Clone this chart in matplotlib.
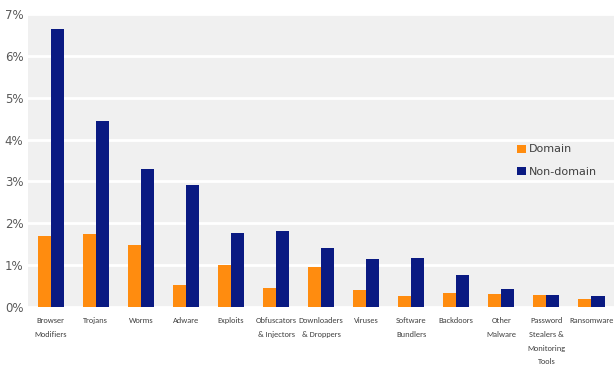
import numpy as np
import matplotlib.pyplot as plt

categories = ['Browser\nModifiers', 'Trojans', 'Worms', 'Adware', 'Exploits',
              'Obfuscators\n& Injectors', 'Downloaders\n& Droppers', 'Viruses',
              'Software\nBundlers', 'Backdoors', 'Other\nMalware',
              'Password\nStealers &\nMonitoring\nTools', 'Ransomware']
domain = [1.69, 1.75, 1.47, 0.52, 1.00, 0.45, 0.96, 0.41, 0.27, 0.33, 0.31, 0.28, 0.19]
non_domain = [6.64, 4.44, 3.29, 2.91, 1.78, 1.81, 1.42, 1.15, 1.16, 0.76, 0.42, 0.29, 0.27]
yticks = [0, 1, 2, 3, 4, 5, 6, 7]

fig = plt.figure(figsize=(6.14, 3.73), dpi=100)
ax = fig.add_axes([0.046, 0.177, 0.954, 0.785])
ax.set_facecolor('#f0f0f0')

x = np.arange(len(categories))
w = 0.29
ax.bar(x - w / 2, domain, w, color='#ff8c0f', label='Domain', zorder=3)
ax.bar(x + w / 2, non_domain, w, color='#0a1a82', label='Non-domain', zorder=3)

ax.set_xlim(-0.5, 12.5)
ax.set_ylim(0, 7)
ax.set_yticks(yticks)
ax.set_yticklabels([f'{v}%' for v in yticks], fontsize=8.5, color='#595959')
ax.set_xticks(x)
ax.set_xticklabels(categories, fontsize=6, color='#404040', va='top', linespacing=2.15,
                   family=['Carlito', 'DejaVu Sans'])
ax.tick_params(length=0, axis='both')
ax.tick_params(axis='x', pad=7)
ax.grid(axis='y', color='white', linewidth=2, zorder=1)
for s in ax.spines.values():
    s.set_visible(False)

ax.legend(loc='center left', bbox_to_anchor=(0.818, 0.5), frameon=False,
          fontsize=8, handlelength=0.75, handleheight=0.75, handletextpad=0.3,
          labelspacing=1.1, labelcolor='#404040')

fig.savefig('out.png', dpi=100)
